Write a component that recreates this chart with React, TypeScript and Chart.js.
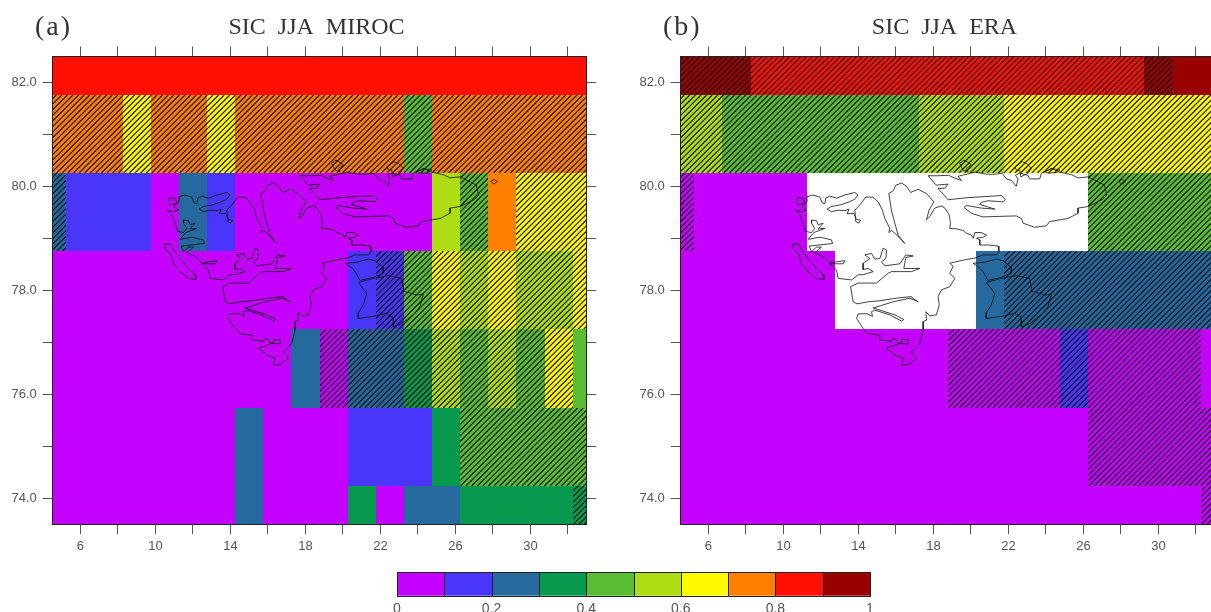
import React, { useEffect, useRef } from "react";
import { Chart, registerables } from "chart.js";

Chart.register(...registerables);

const lonEdges = [4.5, 5.25, 6.75, 8.25, 9.75, 11.25, 12.75, 14.25, 15.75, 17.25, 18.75, 20.25, 21.75, 23.25, 24.75, 26.25, 27.75, 29.25, 30.75, 32.25, 33];
const latEdges = [73.5, 74.25, 75.75, 77.25, 78.75, 80.25, 81.75, 82.5];

const levels = [0, 0.1, 0.2, 0.3, 0.4, 0.5, 0.6, 0.7, 0.8, 0.9, 1];
const levelColors = ["#C400FF", "#4A36F8", "#26699F", "#04994C", "#59BC33", "#AFDD14", "#FFFA00", "#FF8000", "#FF1000", "#990000"];
const levelValues = [0.05, 0.15, 0.25, 0.35, 0.45, 0.55, 0.65, 0.75, 0.85, 0.95];
const colorbarLabels = [0, 0.2, 0.4, 0.6, 0.8, 1];

const xTickValues = [6, 8, 10, 12, 14, 16, 18, 20, 22, 24, 26, 28, 30, 32];
const xTickLabels = [6, 10, 14, 18, 22, 26, 30];
const yTickValues = [74, 75, 76, 77, 78, 79, 80, 81, 82];
const yTickLabels = [74, 76, 78, 80, 82];

// rows run from the southern row (first) to the northern row (last); null = no data
const mirocSic = [
  [.05, .05, .05, .05, .05, .05, .05, .25, .05, .05, .05, .35, .05, .25, .25, .35, .35, .35, .35, .35],
  [.05, .05, .05, .05, .05, .05, .05, .25, .05, .05, .05, .15, .15, .15, .35, .45, .45, .45, .45, .45],
  [.05, .05, .05, .05, .05, .05, .05, .05, .05, .25, .05, .25, .25, .35, .55, .45, .55, .45, .65, .45],
  [.05, .05, .05, .05, .05, .05, .05, .05, .05, .05, .05, .15, .15, .45, .65, .55, .65, .55, .55, .65],
  [.25, .15, .15, .15, .05, .25, .15, .05, .05, .05, .05, .05, .05, .05, .55, .45, .75, .65, .65, .65],
  [.75, .75, .75, .65, .75, .75, .65, .75, .75, .75, .75, .75, .75, .45, .75, .75, .75, .75, .75, .75],
  [.85, .85, .85, .85, .85, .85, .85, .85, .85, .85, .85, .85, .85, .85, .85, .85, .85, .85, .85, .85],
];
const mirocSignificant = [
  [0, 0, 0, 0, 0, 0, 0, 0, 0, 0, 0, 0, 0, 0, 0, 0, 0, 0, 0, 1],
  [0, 0, 0, 0, 0, 0, 0, 0, 0, 0, 0, 0, 0, 0, 0, 1, 1, 1, 1, 1],
  [0, 0, 0, 0, 0, 0, 0, 0, 0, 0, 1, 1, 1, 1, 1, 1, 1, 1, 1, 0],
  [0, 0, 0, 0, 0, 0, 0, 0, 0, 0, 0, 0, 1, 1, 1, 1, 1, 1, 1, 1],
  [1, 0, 0, 0, 0, 0, 0, 0, 0, 0, 0, 0, 0, 0, 0, 1, 0, 1, 1, 1],
  [1, 1, 1, 1, 1, 1, 1, 1, 1, 1, 1, 1, 1, 1, 1, 1, 1, 1, 1, 1],
  [0, 0, 0, 0, 0, 0, 0, 0, 0, 0, 0, 0, 0, 0, 0, 0, 0, 0, 0, 0],
];
const eraSic = [
  [.05, .05, .05, .05, .05, .05, .05, .05, .05, .05, .05, .05, .05, .05, .05, .05, .05, .05, .05, .05],
  [.05, .05, .05, .05, .05, .05, .05, .05, .05, .05, .05, .05, .05, .05, .05, .05, .05, .05, .05, .05],
  [.05, .05, .05, .05, .05, .05, .05, .05, .05, .05, .05, .05, .05, .05, .15, .05, .05, .05, .05, .05],
  [.05, .05, .05, .05, .05, .05, null, null, null, null, null, .25, .25, .25, .25, .25, .25, .25, .25, .25],
  [.05, .05, .05, .05, .05, null, null, null, null, null, null, null, null, null, null, .45, .45, .45, .45, .45],
  [.55, .55, .45, .45, .45, .45, .45, .45, .45, .55, .55, .55, .65, .65, .65, .65, .65, .65, .65, .65],
  [.95, .95, .95, .85, .85, .85, .85, .85, .85, .85, .85, .85, .85, .85, .85, .85, .85, .95, .95, .95],
];
const eraSignificant = [
  [0, 0, 0, 0, 0, 0, 0, 0, 0, 0, 0, 0, 0, 0, 0, 0, 0, 0, 0, 1],
  [0, 0, 0, 0, 0, 0, 0, 0, 0, 0, 0, 0, 0, 0, 0, 1, 1, 1, 1, 1],
  [0, 0, 0, 0, 0, 0, 0, 0, 0, 0, 1, 1, 1, 1, 1, 1, 1, 1, 1, 0],
  [0, 0, 0, 0, 0, 0, 0, 0, 0, 0, 0, 0, 1, 1, 1, 1, 1, 1, 1, 1],
  [1, 0, 0, 0, 0, 0, 0, 0, 0, 0, 0, 0, 0, 0, 0, 1, 1, 1, 1, 1],
  [1, 1, 1, 1, 1, 1, 1, 1, 1, 1, 1, 1, 1, 1, 1, 1, 1, 1, 1, 1],
  [1, 1, 1, 1, 1, 1, 1, 1, 1, 1, 1, 1, 1, 1, 1, 1, 1, 1, 0, 0],
];

// Coastlines as [longitude, latitude]
const spitsbergen = [
  [11.26, 79.77], [11.26, 79.8], [11.58, 79.83], [11.94, 79.79], [12.06, 79.68], [12.21, 79.66], [12.26, 79.77], [12.47, 79.81], [12.83, 79.77], [13.27, 79.83], [13.81, 79.88], [13.97, 79.83], [13.81, 79.75], [13.45, 79.69], [13.01, 79.64], [12.56, 79.61], [12.33, 79.56], [12.56, 79.51], [12.92, 79.54], [13.27, 79.53], [13.5, 79.56], [13.4, 79.47], [13.75, 79.48], [13.9, 79.36], [14.11, 79.35], [14.02, 79.29], [13.86, 79.32], [13.81, 79.54], [14.07, 79.64], [14.39, 79.79], [14.79, 79.79], [15.05, 79.7], [15.28, 79.54], [15.41, 79.38], [15.67, 79.19], [15.62, 79.11], [15.76, 79.15], [16.0, 79.08], [16.47, 78.9], [16.12, 79.06], [15.94, 79.29], [15.76, 79.54], [15.62, 79.86], [15.85, 79.91], [16.0, 80.02], [16.3, 80.06], [16.56, 80.0], [16.78, 79.88], [17.19, 79.94], [17.63, 79.86], [18.02, 79.7], [17.77, 79.54], [17.63, 79.36], [17.81, 79.42], [18.07, 79.58], [18.43, 79.62],
  [18.61, 79.58], [18.84, 79.45], [18.91, 79.29], [18.87, 79.19], [19.23, 79.18], [19.58, 79.15], [19.73, 79.1], [20.03, 79.06], [20.12, 79.0], [20.21, 79.11], [20.56, 79.11], [20.83, 79.06], [20.65, 79.02], [20.3, 79.0], [20.47, 78.97], [20.47, 78.87], [21.01, 78.87], [21.45, 78.85], [21.49, 78.74], [21.36, 78.68], [20.65, 78.68], [20.21, 78.62], [19.59, 78.58], [18.87, 78.52], [19.05, 78.46], [18.87, 78.33], [19.14, 78.23], [18.87, 78.07], [18.43, 78.01], [18.25, 77.88], [18.31, 77.72], [18.16, 77.53], [17.81, 77.51],
  [17.6, 77.59], [17.63, 77.43], [17.45, 77.4], [17.45, 77.24], [17.36, 77.11], [17.27, 76.98], [16.83, 76.82], [17.1, 76.7], [16.65, 76.57], [16.3, 76.57], [16.39, 76.7], [15.94, 76.76], [15.5, 76.89], [15.67, 76.91], [16.21, 76.98], [16.65, 76.97], [16.65, 77.05], [16.3, 77.06], [16.35, 77.02], [16.12, 76.98], [16.03, 77.05], [15.85, 77.08], [15.76, 77.02], [15.14, 77.05], [15.14, 77.14], [14.52, 77.17], [14.25, 77.27], [13.9, 77.46], [13.99, 77.55], [14.47, 77.55], [14.75, 77.5], [14.7, 77.59], [14.87, 77.62], [15.67, 77.53], [16.3, 77.41], [16.42, 77.44], [15.94, 77.53], [14.79, 77.66], [15.85, 77.78], [16.74, 77.85], [17.19, 77.78], [16.88, 77.85], [16.83, 77.88], [16.03, 77.85], [15.14, 77.8], [14.52, 77.78], [13.93, 77.74], [13.72, 77.78], [13.58, 78.07], [13.99, 78.14], [14.96, 78.14], [15.59, 78.33], [15.76, 78.36], [16.83, 78.36], [17.27, 78.42], [16.42, 78.42], [16.53, 78.63], [16.92, 78.66], [16.53, 78.68], [16.21, 78.51], [15.41, 78.47], [15.23, 78.55], [15.46, 78.61], [15.5, 78.77], [15.32, 78.81], [15.14, 78.61], [14.87, 78.6], [14.7, 78.71], [14.34, 78.68], [14.61, 78.61], [14.25, 78.52], [14.25, 78.4], [14.52, 78.42], [14.79, 78.36], [14.25, 78.3], [13.99, 78.3], [13.63, 78.2], [12.92, 78.23], [12.83, 78.39], [12.47, 78.51], [13.19, 78.51], [13.27, 78.57], [12.47, 78.53], [12.12, 78.65], [11.67, 78.72], [12.03, 78.83], [11.76, 78.83], [11.5, 78.74],
  [11.37, 78.85], [12.12, 78.88], [12.62, 78.9], [12.56, 78.97], [11.94, 79.02], [11.32, 78.98], [11.62, 79.11], [12.21, 79.19], [11.85, 79.18], [12.12, 79.29], [11.85, 79.26], [11.76, 79.34], [11.5, 79.35], [11.5, 79.29], [11.67, 79.19], [11.5, 79.11], [11.19, 79.13], [11.05, 79.29], [10.87, 79.45], [10.66, 79.54], [10.96, 79.51], [11.23, 79.54], [10.96, 79.61], [11.26, 79.7], [11.26, 79.77],
];
const nordaustlandet = [
  [17.71, 80.2], [18.24, 80.2], [18.81, 80.21], [19.1, 80.16], [19.49, 80.11], [19.31, 80.19], [20.2, 80.27], [20.82, 80.23], [21.27, 80.23], [21.66, 80.25], [21.89, 80.14], [22.16, 80.11], [22.42, 80.0], [22.51, 80.14], [22.37, 80.21], [22.6, 80.25], [23.04, 80.21], [23.13, 80.14], [23.67, 80.14], [23.76, 80.25], [24.32, 80.34], [24.73, 80.27], [25.36, 80.22], [25.71, 80.16], [26.26, 80.18], [27.12, 80.02], [27.24, 79.83], [27.03, 79.75], [26.26, 79.61], [25.71, 79.58], [25.71, 79.48], [25.18, 79.38], [24.2, 79.32], [24.02, 79.24], [23.4, 79.21], [22.78, 79.29], [22.69, 79.38], [22.42, 79.43], [20.64, 79.41], [20.02, 79.48], [19.63, 79.59], [19.75, 79.63], [20.55, 79.58], [21.27, 79.56], [20.47, 79.65], [20.55, 79.69], [20.91, 79.72], [21.71, 79.7], [21.84, 79.75], [21.62, 79.82], [19.84, 79.78], [19.04, 79.75], [18.78, 79.74], [18.24, 79.96], [18.6, 79.96], [18.78, 80.04], [18.15, 80.02], [17.71, 80.2],
];
const barentsoya = [
  [20.11, 78.52], [20.73, 78.54], [21.35, 78.6], [21.71, 78.57], [22.15, 78.44], [22.15, 78.33], [21.62, 78.25], [20.91, 78.19], [20.7, 78.33], [20.52, 78.42], [20.11, 78.52],
];
const edgeoya = [
  [20.82, 78.15], [21.27, 77.94], [21.09, 77.72], [20.82, 77.57], [20.82, 77.46], [21.62, 77.5], [22.33, 77.56], [22.69, 77.48], [22.69, 77.3], [23.13, 77.36], [23.84, 77.56], [24.11, 77.69], [24.29, 77.93], [23.97, 77.91], [23.26, 77.98], [23.13, 78.23], [22.42, 78.28], [21.62, 78.23], [20.82, 78.15],
];
const forlandet = [
  [10.48, 78.89], [10.79, 78.89], [11.05, 78.74], [11.32, 78.61], [11.76, 78.42], [12.12, 78.3], [12.15, 78.21], [11.76, 78.23], [11.32, 78.36], [10.96, 78.52], [10.79, 78.71], [10.52, 78.79], [10.48, 78.89],
];
const danskoya = [[10.7, 79.77], [11.05, 79.77], [11.14, 79.67], [10.78, 79.64], [10.7, 79.77]];
const islet1 = [[19.4, 80.44], [19.63, 80.5], [19.85, 80.46], [20.02, 80.41], [19.76, 80.34], [19.85, 80.28], [19.58, 80.31], [19.49, 80.37], [19.4, 80.44]];
const islet2 = [[22.34, 80.37], [22.73, 80.47], [22.96, 80.44], [23.22, 80.34], [23.05, 80.25], [22.66, 80.18], [22.6, 80.31], [22.42, 80.31], [22.34, 80.37]];
const islet3 = [[23.94, 80.28], [24.29, 80.34], [24.74, 80.31], [24.56, 80.26], [24.11, 80.25], [23.94, 80.28]];
const islet4 = [[27.88, 80.09], [28.06, 80.13], [28.24, 80.09], [28.06, 80.04], [27.88, 80.09]];
const coastlines = [spitsbergen, nordaustlandet, barentsoya, edgeoya, forlandet, danskoya, islet1, islet2, islet3, islet4];

const TICK_FONT = { family: "'Liberation Sans'", size: 13 };
const TICK_COLOR = "#555";
const AXIS_COLOR = "#222";

function colorFor(value: number) {
  for (let i = 0; i < levelColors.length; i++) {
    if (value < levels[i + 1]) return levelColors[i];
  }
  return levelColors[levelColors.length - 1];
}

function cellPlugin(values: (number | null)[][], significant: number[][], letter: string) {
  return {
    id: "cells",
    beforeDraw(chart: any) {
      const { ctx, chartArea } = chart;
      const xs = chart.scales.x;
      const ys = chart.scales.y;
      ctx.save();
      ctx.font = "28px 'Liberation Serif'";
      (ctx as any).letterSpacing = "2px";
      ctx.fillStyle = "#333";
      ctx.textBaseline = "alphabetic";
      ctx.textAlign = "left";
      ctx.fillText(letter, 35, 35);
      ctx.restore();

      ctx.save();
      ctx.beginPath();
      ctx.rect(chartArea.left, chartArea.top, chartArea.width, chartArea.height);
      ctx.clip();
      values.forEach((row, r) => {
        row.forEach((v, c) => {
          if (v === null) return;
          const x0 = Math.round(xs.getPixelForValue(lonEdges[c]));
          const x1 = Math.round(xs.getPixelForValue(lonEdges[c + 1]));
          const y0 = Math.round(ys.getPixelForValue(latEdges[r + 1]));
          const y1 = Math.round(ys.getPixelForValue(latEdges[r]));
          ctx.fillStyle = colorFor(v);
          ctx.fillRect(x0, y0, x1 - x0, y1 - y0);
          if (significant[r][c]) {
            ctx.save();
            ctx.beginPath();
            ctx.rect(x0, y0, x1 - x0, y1 - y0);
            ctx.clip();
            ctx.strokeStyle = "#111";
            ctx.lineWidth = 1.15;
            ctx.beginPath();
            const step = 5.6;
            const h = y1 - y0;
            const start = Math.floor((x0 + y0) / step) * step;
            for (let s = start; s < x1 + y1 + step; s += step) {
              ctx.moveTo(s - y0, y0);
              ctx.lineTo(s - y0 - h, y1);
            }
            ctx.stroke();
            ctx.restore();
          }
        });
      });
      ctx.restore();
    },
  };
}

function mapConfig(title: string, values: (number | null)[][], significant: number[][], letter: string) {
  const fixX = (s: any) => {
    s.ticks = xTickValues.map((value) => ({ value }));
  };
  const fixY = (s: any) => {
    s.ticks = yTickValues.map((value) => ({ value }));
  };
  const axisCommon = {
    type: "linear",
    border: { display: true, color: AXIS_COLOR, width: 1 },
  };
  const grid = { drawOnChartArea: false, drawTicks: true, tickLength: 9.5, tickColor: "#555", tickWidth: 1 };
  return {
    type: "scatter",
    data: {
      datasets: coastlines.map((line) => ({
        data: line.map(([x, y]) => ({ x, y })),
        showLine: true,
        borderColor: "#111",
        borderWidth: 0.8,
        pointRadius: 0,
        fill: false,
        tension: 0,
      })),
    },
    options: {
      animation: false,
      responsive: false,
      maintainAspectRatio: false,
      layout: { padding: 0 },
      plugins: {
        legend: { display: false },
        tooltip: { enabled: false },
        title: {
          display: true,
          text: title,
          fullSize: false,
          color: "#333",
          font: { family: "'Liberation Serif'", size: 24, weight: "normal", lineHeight: 1.2 },
          padding: { top: 13, bottom: 0 },
        },
      },
      scales: {
        x: {
          ...axisCommon,
          position: "bottom",
          min: lonEdges[0],
          max: lonEdges[lonEdges.length - 1],
          grid,
          afterBuildTicks: fixX,
          afterFit: (s: any) => {
            s.height = 35.3;
          },
          ticks: {
            autoSkip: false,
            maxRotation: 0,
            minRotation: 0,
            padding: 4,
            color: TICK_COLOR,
            font: TICK_FONT,
            callback: (v: number) => (xTickLabels.includes(v) ? String(v) : ""),
          },
        },
        x2: {
          ...axisCommon,
          position: "top",
          min: lonEdges[0],
          max: lonEdges[lonEdges.length - 1],
          grid,
          afterBuildTicks: fixX,
          afterFit: (s: any) => {
            s.height = 14.2;
          },
          ticks: { display: false, autoSkip: false, maxRotation: 0 },
        },
        y: {
          ...axisCommon,
          position: "left",
          min: latEdges[0],
          max: latEdges[latEdges.length - 1],
          grid,
          afterBuildTicks: fixY,
          afterFit: (s: any) => {
            s.width = 52.3;
          },
          ticks: {
            autoSkip: false,
            padding: 6,
            color: TICK_COLOR,
            font: TICK_FONT,
            callback: (v: number) => (yTickLabels.includes(v) ? v.toFixed(1) : ""),
          },
        },
        y2: {
          ...axisCommon,
          position: "right",
          min: latEdges[0],
          max: latEdges[latEdges.length - 1],
          grid,
          afterBuildTicks: fixY,
          afterFit: (s: any) => {
            s.width = 52.3;
          },
          ticks: { display: false, autoSkip: false },
        },
      },
    },
    plugins: [cellPlugin(values, significant, letter)],
  };
}

const colorbarPlugin = {
  id: "colorbar",
  beforeDraw(chart: any) {
    const { ctx, chartArea } = chart;
    const xs = chart.scales.x;
    ctx.save();
    levelValues.forEach((v, i) => {
      const x0 = Math.round(xs.getPixelForValue(levels[i]));
      const x1 = Math.round(xs.getPixelForValue(levels[i + 1]));
      ctx.fillStyle = colorFor(v);
      ctx.fillRect(x0, chartArea.top, x1 - x0, chartArea.height);
      ctx.strokeStyle = "#222";
      ctx.lineWidth = 1;
      ctx.strokeRect(x0 + 0.5, Math.round(chartArea.top) + 0.5, x1 - x0, Math.round(chartArea.height));
    });
    ctx.restore();
  },
};

const colorbarConfig: any = {
  type: "scatter",
  data: { datasets: [{ data: levelValues.map((x) => ({ x, y: 0.5 })), pointRadius: 0, showLine: false }] },
  options: {
    animation: false,
    responsive: false,
    maintainAspectRatio: false,
    layout: { padding: { left: 397, right: 341, top: 12, bottom: 0 } },
    plugins: { legend: { display: false }, tooltip: { enabled: false } },
    scales: {
      x: {
        type: "linear",
        position: "bottom",
        min: levels[0],
        max: levels[levels.length - 1],
        grid: { display: false, drawTicks: false },
        border: { display: false },
        afterBuildTicks: (s: any) => {
          s.ticks = colorbarLabels.map((value) => ({ value }));
        },
        afterFit: (s: any) => {
          s.height = 16.3;
        },
        ticks: {
          autoSkip: false,
          maxRotation: 0,
          padding: 5,
          color: TICK_COLOR,
          font: { family: "'Liberation Sans'", size: 14 },
          callback: (v: number) => String(v),
        },
      },
      y: { type: "linear", display: false, min: 0, max: 1 },
    },
  },
};

export default function App() {
  const aRef = useRef<HTMLCanvasElement>(null);
  const bRef = useRef<HTMLCanvasElement>(null);
  const cRef = useRef<HTMLCanvasElement>(null);

  useEffect(() => {
    const charts = [
      new Chart(aRef.current as any, mapConfig("SIC  JJA  MIROC ", mirocSic, mirocSignificant, "(a)") as any),
      new Chart(bRef.current as any, mapConfig("SIC  JJA  ERA ", eraSic, eraSignificant, "(b)") as any),
      new Chart(cRef.current as any, { ...colorbarConfig, plugins: [colorbarPlugin] }),
    ];
    return () => charts.forEach((c) => c.destroy());
  }, []);

  return (
    <div style={{ position: "absolute", left: 0, top: 0, width: 1211, height: 612, overflow: "hidden", background: "#fff" }}>
      <canvas ref={aRef} width={639} height={560} style={{ position: "absolute", left: 0, top: 0 }} />
      <canvas ref={bRef} width={639} height={560} style={{ position: "absolute", left: 628.2, top: 0 }} />
      <canvas ref={cRef} width={1211} height={52} style={{ position: "absolute", left: 0, top: 560 }} />
    </div>
  );
}
